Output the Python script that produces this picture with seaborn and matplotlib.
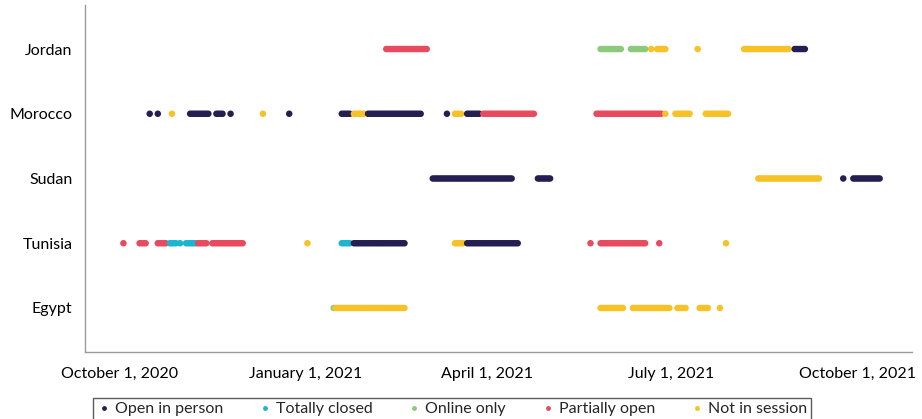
import matplotlib
matplotlib.use("Agg")
import matplotlib.pyplot as plt
import seaborn as sns
import pandas as pd
from matplotlib.lines import Line2D

# ---- data: spans of daily status observations ----
countries = ["Jordan", "Morocco", "Sudan", "Tunisia", "Egypt"]
statuses = ["Open in person", "Totally closed", "Online only", "Partially open", "Not in session"]
colors = ["#231f52", "#1cb5cf", "#8dc97c", "#e84a5f", "#f6c226"]

jordan_start = ["2021-02-10", "2021-05-27", "2021-06-11", "2021-06-21", "2021-06-24", "2021-07-14", "2021-08-06", "2021-08-31"]
jordan_end   = ["2021-03-02", "2021-06-06", "2021-06-18", "2021-06-21", "2021-06-28", "2021-07-14", "2021-08-28", "2021-09-05"]
jordan_stat  = ["Partially open", "Online only", "Online only", "Not in session", "Not in session", "Not in session", "Not in session", "Open in person"]

morocco_start = ["2020-10-16", "2020-10-20", "2020-10-27", "2020-11-05", "2020-11-18", "2020-11-25", "2020-12-11", "2020-12-24",
                 "2021-01-19", "2021-01-25", "2021-02-01", "2021-03-12", "2021-03-16", "2021-03-22", "2021-03-30",
                 "2021-05-25", "2021-06-28", "2021-07-03", "2021-07-18"]
morocco_end   = ["2020-10-16", "2020-10-20", "2020-10-27", "2020-11-14", "2020-11-21", "2020-11-25", "2020-12-11", "2020-12-24",
                 "2021-01-23", "2021-01-30", "2021-02-27", "2021-03-12", "2021-03-19", "2021-03-28", "2021-04-24",
                 "2021-06-26", "2021-06-28", "2021-07-10", "2021-07-29"]
morocco_stat  = ["Open in person", "Open in person", "Not in session", "Open in person", "Open in person", "Open in person",
                 "Not in session", "Open in person", "Open in person", "Not in session", "Open in person", "Open in person",
                 "Not in session", "Open in person", "Partially open", "Partially open", "Not in session", "Not in session",
                 "Not in session"]

sudan_start = ["2021-03-05", "2021-04-26", "2021-08-13", "2021-09-24", "2021-09-29"]
sudan_end   = ["2021-04-13", "2021-05-02", "2021-09-12", "2021-09-24", "2021-10-12"]
sudan_stat  = ["Open in person", "Open in person", "Not in session", "Open in person", "Open in person"]

tunisia_start = ["2020-10-03", "2020-10-11", "2020-10-20", "2020-10-26", "2020-10-31", "2020-11-03", "2020-11-09", "2020-11-16",
                 "2021-01-02", "2021-01-19", "2021-01-25", "2021-03-16", "2021-03-22", "2021-05-22", "2021-05-27",
                 "2021-06-25", "2021-07-28"]
tunisia_end   = ["2020-10-03", "2020-10-14", "2020-10-24", "2020-10-29", "2020-10-31", "2020-11-08", "2020-11-13", "2020-12-01",
                 "2021-01-02", "2021-01-23", "2021-02-19", "2021-03-20", "2021-04-16", "2021-05-22", "2021-06-18",
                 "2021-06-25", "2021-07-28"]
tunisia_stat  = ["Partially open", "Partially open", "Partially open", "Totally closed", "Totally closed", "Totally closed",
                 "Partially open", "Partially open", "Not in session", "Totally closed", "Open in person", "Not in session",
                 "Open in person", "Partially open", "Partially open", "Partially open", "Not in session"]

egypt_start = ["2021-01-15", "2021-01-16", "2021-05-27", "2021-06-12", "2021-07-04", "2021-07-15", "2021-07-25"]
egypt_end   = ["2021-01-15", "2021-02-19", "2021-06-07", "2021-06-30", "2021-07-08", "2021-07-19", "2021-07-25"]
egypt_stat  = ["Online only", "Not in session", "Not in session", "Not in session", "Not in session", "Not in session", "Not in session"]

tick_dates = ["2020-10-01", "2021-01-01", "2021-04-01", "2021-07-01", "2021-10-01"]
tick_labels = ["October 1, 2020", "January 1, 2021", "April 1, 2021", "July 1, 2021", "October 1, 2021"]

# ---- build daily table ----
spans = {
    "Jordan": (jordan_start, jordan_end, jordan_stat),
    "Morocco": (morocco_start, morocco_end, morocco_stat),
    "Sudan": (sudan_start, sudan_end, sudan_stat),
    "Tunisia": (tunisia_start, tunisia_end, tunisia_stat),
    "Egypt": (egypt_start, egypt_end, egypt_stat),
}
rows = []
for c, (ss, ee, st) in spans.items():
    for s, e, k in zip(ss, ee, st):
        for d in pd.date_range(s, e, freq="D"):
            rows.append({"date": d, "country": c, "status": k, "pos": countries.index(c)})
df = pd.DataFrame(rows)

sns.set_theme(style="white")
plt.rcParams["font.family"] = ["Lato", "DejaVu Sans"]

fig = plt.figure(figsize=(9.22, 4.19), dpi=100)
ax = fig.add_axes([85 / 922, 1 - 352 / 419, 827 / 922, 347 / 419])

sns.scatterplot(data=df, x="date", y="pos", hue="status", hue_order=statuses,
                palette=dict(zip(statuses, colors)), s=22, linewidth=0, ax=ax, legend=False)

ax.set_ylim(4.68, -0.68)
ax.set_yticks(range(len(countries)))
ax.set_yticklabels(countries)
ax.set_xlim(pd.Timestamp("2020-09-14"), pd.Timestamp("2021-10-28"))
ax.set_xticks(pd.to_datetime(tick_dates))
ax.set_xticklabels(tick_labels)
ax.set_xlabel("")
ax.set_ylabel("")

for side in ["top", "right"]:
    ax.spines[side].set_visible(False)
for side in ["left", "bottom"]:
    ax.spines[side].set_color("#9a9a9a")
    ax.spines[side].set_linewidth(1.0)
ax.tick_params(axis="both", which="major", direction="out", length=5, width=1,
               color="#9a9a9a", labelsize=11.5, labelcolor="black", pad=4)
ax.tick_params(axis="x", pad=6)

handles = [Line2D([0], [0], marker="o", linestyle="", markersize=3.5,
                  markerfacecolor=col, markeredgewidth=0) for col in colors]
leg = ax.legend(handles, statuses, ncol=5, loc="upper center",
                bbox_to_anchor=(0.444, -0.133), borderaxespad=0, frameon=True, fancybox=False,
                fontsize=11.5, handletextpad=0.3, columnspacing=2.2,
                handlelength=0.8, borderpad=0.25)
leg.get_frame().set_edgecolor("#333333")
leg.get_frame().set_linewidth(1.0)

fig.savefig("out.png", dpi=100)
